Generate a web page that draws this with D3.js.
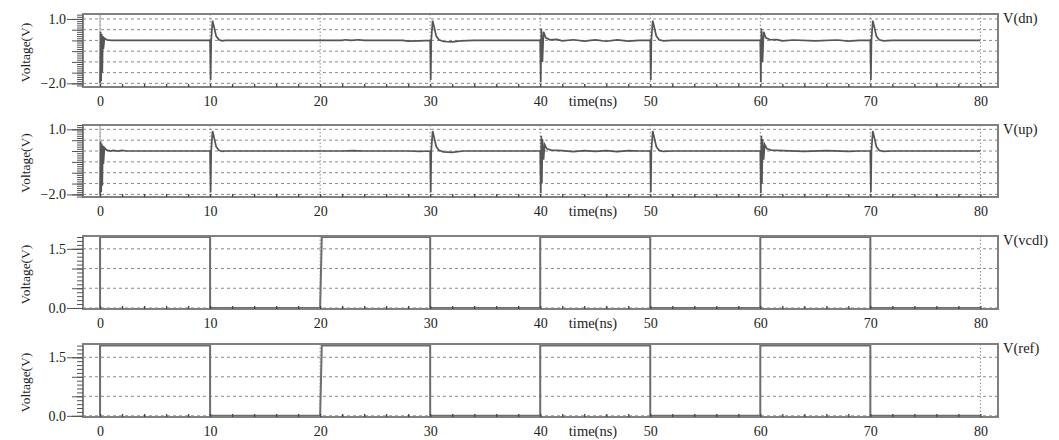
<!DOCTYPE html>
<html>
<head>
<meta charset="utf-8">
<script src="https://cdn.jsdelivr.net/npm/d3@7"></script>
<style>
  html, body { margin: 0; padding: 0; background: #fff; }
  svg { display: block; }
  text { font-family: "Liberation Serif", "Times New Roman", serif; fill: #222; }
</style>
</head>
<body>
<svg id="chart" width="1059" height="440"></svg>
<script>
// ---------- data ----------
const timeTicks = [0, 10, 20, 30, 40, 50, 60, 70, 80];
const timeLabel = "time(ns)";
const yLabel = "Voltage(V)";

const panelNames = ["V(dn)", "V(up)", "V(vcdl)", "V(ref)"];

const spikeTickLabels = [1.0, -2.0];
const squareTickLabels = [1.5, 0.0];

// V(dn): [time ns, volts]
const dnWave = [
  [0, -2.0], [0.05, 0.4], [0.1, -1.9], [0.15, 0.3], [0.2, -1.5], [0.25, 0.2], [0.3, -0.4],
  [0.4, 0.1], [0.6, 0.03], [1, 0], [10, 0],
  [10.05, -1.85], [10.1, 0], [10.22, 0.92], [10.35, 0.65], [10.55, 0.2], [10.8, 0.03], [11.1, -0.02], [11.4, 0],
  [22.0, 0], [22.3, 0.03], [22.8, 0.0], [23.5, 0.03], [24, 0], [27.5, 0], [28, -0.03], [29, -0.02],
  [30, 0], [30.05, -1.85], [30.1, 0], [30.22, 0.92], [30.35, 0.65], [30.55, 0.2], [30.8, 0.03], [31.2, -0.05],
  [32, -0.07], [32.8, -0.02], [34, 0], [40, 0],
  [40.05, -1.95], [40.1, 0.55], [40.2, -1.0], [40.3, 0.4], [40.5, 0.12], [40.9, 0.03], [41.5, 0.05],
  [42, -0.02], [43, 0.03], [44, -0.03], [45, 0.02], [46, -0.04], [47, 0.02], [48, -0.03], [49, 0],
  [50, 0], [50.05, -1.85], [50.1, 0], [50.22, 0.92], [50.35, 0.65], [50.55, 0.2], [50.8, 0.03], [51.2, -0.02], [52, 0],
  [60, 0], [60.05, -1.95], [60.1, 0.55], [60.2, -1.0], [60.3, 0.4], [60.5, 0.12], [60.9, 0.03],
  [61.5, 0.04], [62, -0.02], [63, 0.02], [65, -0.02], [67, 0.02], [68, -0.03], [69, 0],
  [70, 0], [70.05, -1.85], [70.1, 0], [70.22, 0.92], [70.35, 0.65], [70.55, 0.2], [70.8, 0.03], [71.2, -0.02], [72, 0],
  [80, 0]
];

// V(up): [time ns, volts]
const upWave = [
  [0, -2.0], [0.05, 0.45], [0.1, -1.9], [0.15, 0.35], [0.2, -1.6], [0.25, 0.25], [0.3, -0.6],
  [0.4, 0.15], [0.6, 0.04], [1, 0], [1.2, 0.03], [1.6, 0.0], [2.0, 0.03], [2.4, 0], [10, 0],
  [10.05, -1.9], [10.1, 0], [10.22, 0.92], [10.35, 0.65], [10.55, 0.2], [10.8, 0.03], [11.1, -0.02], [11.4, 0],
  [22, 0], [23, 0.02], [24, 0], [28, 0], [29, -0.02],
  [30, 0], [30.05, -1.9], [30.1, 0], [30.22, 0.92], [30.35, 0.65], [30.55, 0.2], [30.8, 0.03], [31.2, -0.04],
  [32, -0.06], [33, 0], [40, 0],
  [40.05, -1.95], [40.1, 0.7], [40.15, -1.5], [40.2, 0.55], [40.3, -0.4], [40.4, 0.3], [40.6, 0.1],
  [41, 0.04], [42, 0.02], [43, -0.03], [44, 0.02], [45, -0.02], [46, 0.02], [47, -0.03], [48, 0.02], [49, 0],
  [50, 0], [50.05, -1.9], [50.1, 0], [50.22, 0.92], [50.35, 0.65], [50.55, 0.2], [50.8, 0.03], [51.2, -0.02], [52, 0],
  [60, 0], [60.05, -1.95], [60.1, 0.7], [60.15, -1.5], [60.2, 0.55], [60.3, -0.4], [60.4, 0.3],
  [60.6, 0.1], [61, 0.04], [62, 0.02], [64, -0.02], [66, 0.02], [68, -0.02], [69, 0],
  [70, 0], [70.05, -1.9], [70.1, 0], [70.22, 0.92], [70.35, 0.65], [70.55, 0.2], [70.8, 0.03], [71.2, -0.02], [72, 0],
  [80, 0]
];

// V(vcdl), V(ref): square waves [time ns, volts]
const vcdlWave = [
  [0, 0], [0, 1.8], [10, 1.8], [10, 0], [20, 0], [20.15, 1.8], [30, 1.8], [30, 0], [40, 0],
  [40, 1.8], [50, 1.8], [50, 0], [60, 0], [60, 1.8], [70, 1.8], [70, 0], [80, 0]
];
const refWave = [
  [0, 0], [0, 1.8], [10, 1.8], [10, 0], [20, 0], [20.15, 1.8], [30, 1.8], [30, 0], [40, 0],
  [40, 1.8], [50, 1.8], [50, 0], [60, 0], [60, 1.8], [70, 1.8], [70, 0], [80, 0]
];

// ---------- layout ----------
const svg = d3.select("#chart");
const left = 83, right = 998;
const x = d3.scaleLinear().domain([-1.55, 81.6]).range([left, right]);

const panels = [
  { name: panelNames[0], data: dnWave, top: 14, bottom: 87, dom: [-2.17, 1.23], labels: spikeTickLabels, square: false },
  { name: panelNames[1], data: upWave, top: 125, bottom: 197, dom: [-2.12, 1.2], labels: spikeTickLabels, square: false },
  { name: panelNames[2], data: vcdlWave, top: 236, bottom: 309, dom: [-0.026, 1.825], labels: squareTickLabels, square: true },
  { name: panelNames[3], data: refWave, top: 344, bottom: 417, dom: [-0.03, 1.84], labels: squareTickLabels, square: true }
];

const round = v => Math.round(v * 100) / 100;

panels.forEach(p => {
  const y = d3.scaleLinear().domain(p.dom).range([p.bottom, p.top]);
  const g = svg.append("g");

  const lo = p.square ? 0 : -2.0;
  const hi = p.square ? 1.5 : 1.0;
  const majors = d3.range(lo, hi + 0.001, 0.5).map(round);
  const minors = d3.range(p.dom[0], p.dom[1], 0.1)
    .map(v => round(Math.ceil(v * 10) / 10))
    .filter(v => v >= p.dom[0] && v <= p.dom[1]);

  // horizontal dashed grid
  g.append("g").selectAll("line").data(majors).join("line")
    .attr("x1", left).attr("x2", right)
    .attr("y1", d => y(d)).attr("y2", d => y(d))
    .attr("stroke", "#8a8a8a").attr("stroke-width", 1)
    .attr("stroke-dasharray", "3,3");

  // vertical dotted grid
  g.append("g").selectAll("line").data(timeTicks).join("line")
    .attr("x1", d => x(d)).attr("x2", d => x(d))
    .attr("y1", p.top).attr("y2", p.bottom)
    .attr("stroke", "#8a8a8a").attr("stroke-width", 1)
    .attr("stroke-dasharray", "1.5,2");

  if (!p.square) {
    g.append("line")
      .attr("x1", x(0)).attr("x2", x(0)).attr("y1", p.top).attr("y2", p.bottom)
      .attr("stroke", "#b0b0b0").attr("stroke-width", 1.2);
  }

  // waveform
  const line = d3.line().x(d => x(d[0])).y(d => y(d[1]));
  g.append("path").datum(p.data)
    .attr("d", line)
    .attr("fill", "none")
    .attr("stroke", p.square ? "#6e6e6e" : "#555")
    .attr("stroke-width", p.square ? 2 : 1.7)
    .attr("stroke-linejoin", "miter");

  // box
  g.append("rect")
    .attr("x", left).attr("y", p.top)
    .attr("width", right - left).attr("height", p.bottom - p.top)
    .attr("fill", "none").attr("stroke", "#808080").attr("stroke-width", 2);

  // left axis: minor ticks
  g.append("g").attr("transform", `translate(${left},0)`)
    .call(d3.axisLeft(y).tickValues(minors).tickSize(6).tickFormat(""))
    .call(a => a.select(".domain").remove())
    .call(a => a.selectAll("line").attr("stroke", "#555"));
  // left axis: major ticks
  g.append("g").attr("transform", `translate(${left},0)`)
    .call(d3.axisLeft(y).tickValues(majors).tickSize(11).tickFormat(""))
    .call(a => a.select(".domain").remove())
    .call(a => a.selectAll("line").attr("stroke", "#555"));
  // left axis: labeled ticks
  g.append("g").attr("transform", `translate(${left},0)`)
    .call(d3.axisLeft(y).tickValues(p.labels).tickSize(16).tickPadding(1).tickFormat(d3.format(".1f")))
    .call(a => a.select(".domain").remove())
    .call(a => a.selectAll("line").attr("stroke", "#555"))
    .call(a => a.selectAll("text")
      .attr("font-family", "Liberation Serif, serif").attr("font-size", 14).attr("fill", "#222"));

  // bottom axis: minor inward ticks
  g.append("g").attr("transform", `translate(0,${p.bottom})`)
    .call(d3.axisBottom(x).tickValues(d3.range(0, 81, 2)).tickSize(-3).tickFormat(""))
    .call(a => a.select(".domain").remove())
    .call(a => a.selectAll("line").attr("stroke", "#444").attr("stroke-width", 1.3));
  // bottom axis labels
  g.append("g").attr("transform", `translate(0,${p.bottom})`)
    .call(d3.axisBottom(x).tickValues(timeTicks).tickSize(0).tickPadding(9).tickFormat(d3.format("d")))
    .call(a => a.select(".domain").remove())
    .call(a => a.selectAll("text")
      .attr("font-family", "Liberation Serif, serif").attr("font-size", 14).attr("fill", "#222"));

  // x axis title
  g.append("text")
    .attr("x", 593).attr("y", p.bottom + 19)
    .attr("text-anchor", "middle").attr("font-size", 14.5)
    .text(timeLabel);

  // y axis title
  g.append("text")
    .attr("transform", `translate(30,${(p.top + p.bottom) / 2 + 2}) rotate(-90)`)
    .attr("text-anchor", "middle").attr("font-size", 13.5)
    .text(yLabel);

  // panel name
  g.append("text")
    .attr("x", 1003).attr("y", p.top + 9)
    .attr("font-size", 14.5)
    .text(p.name);
});
</script>
</body>
</html>
